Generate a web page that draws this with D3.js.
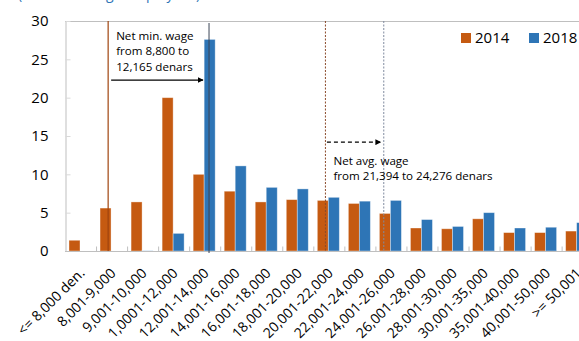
<!DOCTYPE html>
<html>
<head>
<meta charset="utf-8">
<script src="https://cdn.jsdelivr.net/npm/d3@7/dist/d3.min.js"></script>
<style>
  html, body { margin: 0; padding: 0; background: #fff; }
  svg { display: block; font-family: "Open Sans", "Noto Sans", sans-serif; }
</style>
</head>
<body>
<svg id="chart" width="579" height="341"></svg>
<script>
// Wage brackets (net monthly wage, denars)
const categories = [
  "<= 8,000 den.", "8,001-9,000", "9,001-10,000", "1,0001-12,000", "12,001-14,000",
  "14,001-16,000", "16,001-18,000", "18,001-20,000", "20,001-22,000", "22,001-24,000",
  "24,001-26,000", "26,001-28,000", "28,001-30,000", "30,001-35,000", "35,001-40,000",
  "40,001-50,000", ">= 50,001"
];
// Share of employees per bracket, %
const values2014 = [1.4, 5.6, 6.4, 20.0, 10.0, 7.8, 6.4, 6.7, 6.6, 6.2, 4.9, 3.0, 2.9, 4.2, 2.4, 2.4, 2.6];
const values2018 = [0, 0, 0.1, 2.3, 27.6, 11.1, 8.3, 8.1, 7.0, 6.5, 6.6, 4.1, 3.2, 5.0, 3.0, 3.1, 3.7];
const seriesNames = ["2014", "2018"];
const yTicks = [0, 5, 10, 15, 20, 25, 30];

// Reference lines, expressed on the bracket axis (bracket index + fraction)
const minWageLines = [1.39, 4.64];   // 2014 and 2018 net minimum wage
const avgWageLines = [8.39, 10.27];  // 2014 and 2018 net average wage
const minWageArrowY = 22.3;
const avgWageArrowY = 14.2;

const colors = { "2014": "#C55A11", "2018": "#2E75B6" };

const svg = d3.select("#chart");
const plotLeft = 65, plotTop = 21, plotBottom = 251;
const band = 31.04;
const plotRight = plotLeft + band * categories.length;

const x = d3.scaleBand().domain(categories).range([plotLeft, plotRight]).paddingInner(0).paddingOuter(0);
const xi = d3.scaleLinear().domain([0, categories.length]).range([plotLeft, plotRight]);
const y = d3.scaleLinear().domain([0, 30]).range([plotBottom, plotTop]);

// Title (its upper part lies above the drawing area)
svg.append("text")
  .attr("x", 18).attr("y", -1)
  .attr("fill", "#2E75B6").attr("font-size", 14)
  .text("(% of total wage employees)");

// Frame: top border, left axis, bottom axis
svg.append("line").attr("x1", plotLeft).attr("x2", 579).attr("y1", y(30) + 0.5).attr("y2", y(30) + 0.5)
  .attr("stroke", "#BFBFBF");

const yAxis = d3.axisLeft(y).tickValues(yTicks).tickSize(-5).tickPadding(17);
const gy = svg.append("g").attr("transform", `translate(${plotLeft + 0.5},0)`).call(yAxis);
gy.select(".domain").attr("stroke", "#BFBFBF");
gy.selectAll(".tick line").attr("stroke", "#D9D9D9");
gy.selectAll(".tick text").attr("font-size", 15).attr("fill", "#000")
  .attr("font-family", "\"Open Sans\", sans-serif");

// Bars
const barW = 11, barOff = 4;
const bars = svg.append("g");
categories.forEach((c, i) => {
  [values2014[i], values2018[i]].forEach((v, s) => {
    if (v <= 0) return;
    const name = seriesNames[s];
    const isTiny = v < 0.5;
    bars.append("rect")
      .attr("x", x(c) + barOff + s * barW)
      .attr("y", y(v))
      .attr("width", barW)
      .attr("height", y(0) - y(v))
      .attr("fill", isTiny ? "#BDD7EE" : colors[name])
      .attr("stroke", "#fff").attr("stroke-opacity", 0.45).attr("stroke-width", 0.8);
  });
});

// X axis
const xAxis = d3.axisBottom(xi).tickValues(d3.range(1, categories.length + 1)).tickSize(-5).tickFormat("");
const gx = svg.append("g").attr("transform", `translate(0,${plotBottom + 0.5})`).call(xAxis);
gx.select(".domain").attr("stroke", "#BFBFBF").attr("d", `M${plotLeft},0H${579}`);
gx.selectAll(".tick line").attr("stroke", "#BFBFBF");

// Category labels
svg.append("g").selectAll("text").data(categories).join("text")
  .attr("transform", d => `translate(${x(d) + x.bandwidth() / 2 + 5},${plotBottom + 23}) rotate(-45)`)
  .attr("text-anchor", "end")
  .attr("font-size", 14)
  .attr("fill", "#000")
  .text(d => d);

// Minimum wage lines (solid)
svg.append("line")
  .attr("x1", xi(minWageLines[0])).attr("x2", xi(minWageLines[0]))
  .attr("y1", y(30)).attr("y2", y(0))
  .attr("stroke", "#A0440F").attr("stroke-width", 1.2);
svg.append("line")
  .attr("x1", xi(minWageLines[1])).attr("x2", xi(minWageLines[1]))
  .attr("y1", y(30) + 2).attr("y2", y(0) + 2)
  .attr("stroke", "#3B4556").attr("stroke-width", 1);

// Average wage lines (dotted)
svg.append("line")
  .attr("x1", xi(avgWageLines[0])).attr("x2", xi(avgWageLines[0]))
  .attr("y1", y(30)).attr("y2", y(0))
  .attr("stroke", "#8B4A2B").attr("stroke-width", 1).attr("stroke-dasharray", "2,1.5");
svg.append("line")
  .attr("x1", xi(avgWageLines[1])).attr("x2", xi(avgWageLines[1]))
  .attr("y1", y(30)).attr("y2", y(0))
  .attr("stroke", "#7F8A9E").attr("stroke-width", 1).attr("stroke-dasharray", "2,1.5");

// Arrow heads
const defs = svg.append("defs");
defs.append("marker").attr("id", "arrow").attr("viewBox", "0 0 10 10")
  .attr("refX", 9).attr("refY", 5).attr("markerWidth", 5).attr("markerHeight", 5)
  .attr("orient", "auto")
  .append("path").attr("d", "M0,0L10,5L0,10z").attr("fill", "#000");

svg.append("line")
  .attr("x1", xi(minWageLines[0]) + 3).attr("x2", xi(minWageLines[1]) - 6)
  .attr("y1", y(minWageArrowY)).attr("y2", y(minWageArrowY))
  .attr("stroke", "#000").attr("stroke-width", 1.2).attr("marker-end", "url(#arrow)");
svg.append("line")
  .attr("x1", xi(avgWageLines[0]) + 1.5).attr("x2", xi(avgWageLines[1]) - 3)
  .attr("y1", y(avgWageArrowY)).attr("y2", y(avgWageArrowY))
  .attr("stroke", "#000").attr("stroke-width", 1.2).attr("stroke-dasharray", "4,3")
  .attr("marker-end", "url(#arrow)");

// Annotations
const note1 = svg.append("text").attr("font-size", 11.6).attr("fill", "#000");
["Net min. wage", "from 8,800 to", "12,165 denars"].forEach((t, i) => {
  note1.append("tspan").attr("x", xi(minWageLines[0]) + 8).attr("y", 39.5 + i * 15.6).text(t);
});
const note2 = svg.append("text").attr("font-size", 11.6).attr("fill", "#000");
["Net avg. wage", "from 21,394 to 24,276 denars"].forEach((t, i) => {
  note2.append("tspan").attr("x", xi(avgWageLines[0]) + 8).attr("y", 165 + i * 15).text(t);
});

// Legend
const legend = svg.append("g");
seriesNames.forEach((n, i) => {
  const lx = 461 + i * 68;
  legend.append("rect").attr("x", lx).attr("y", 33).attr("width", 10).attr("height", 10).attr("fill", colors[n]);
  legend.append("text").attr("x", lx + 14).attr("y", 43).attr("font-size", 15).attr("fill", "#000").text(n);
});
</script>
</body>
</html>
